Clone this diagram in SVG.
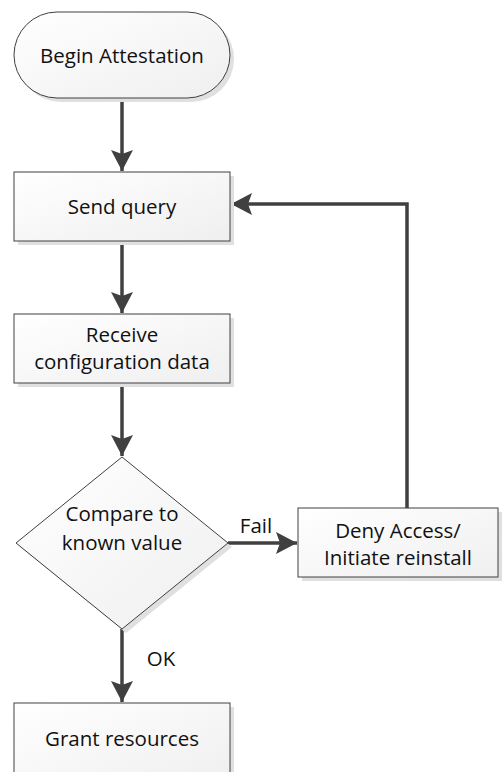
<svg xmlns="http://www.w3.org/2000/svg" width="504" height="772" viewBox="0 0 504 772">
  <style>
    .shape { fill: url(#fillGrad); stroke: #404040; stroke-width: 1; }
    .shadow { fill: #e0e0e0; stroke: none; }
    .label { font-family: "Open Sans", "Liberation Sans", sans-serif; font-size: 20.5px; fill: #111; text-anchor: middle; }
    .conn { fill: none; stroke: #404040; stroke-width: 3.5; }
  </style>
  <defs>
    <linearGradient id="fillGrad" x1="0" y1="0" x2="1" y2="1">
      <stop offset="0" stop-color="#ffffff"/>
      <stop offset="1" stop-color="#efefef"/>
    </linearGradient>
    <marker id="arrow" markerUnits="userSpaceOnUse" markerWidth="22" markerHeight="22" viewBox="0 0 22 22" refX="21" refY="11" orient="auto">
      <path d="M0,0 L21,11 L0,22 L4,11 Z" fill="#404040"/>
    </marker>
  </defs>

  <rect width="504" height="772" fill="#ffffff"/>

  <!-- connectors -->
  <g id="connectors">
    <line class="conn" x1="122" y1="98" x2="122" y2="171" marker-end="url(#arrow)"/>
    <line class="conn" x1="122" y1="241" x2="122" y2="313" marker-end="url(#arrow)"/>
    <line class="conn" x1="122" y1="384" x2="122" y2="456" marker-end="url(#arrow)"/>
    <line class="conn" x1="228" y1="543" x2="297" y2="543" marker-end="url(#arrow)"/>
    <line class="conn" x1="122" y1="629" x2="122" y2="702" marker-end="url(#arrow)"/>
    <polyline class="conn" points="407,508 407,204 231,204" marker-end="url(#arrow)"/>
    <text class="label" x="256" y="533">Fail</text>
    <text class="label" x="161" y="666">OK</text>
  </g>

  <!-- start terminal -->
  <g id="begin">
    <rect class="shadow" x="18" y="16" width="216" height="86" rx="43"/>
    <rect class="shape" x="14" y="12" width="216" height="86" rx="43"/>
    <text class="label" x="122" y="63">Begin Attestation</text>
  </g>

  <g id="send-query">
    <rect class="shadow" x="18" y="176" width="216" height="69"/>
    <rect class="shape" x="14" y="172" width="216" height="69"/>
    <text class="label" x="122" y="214">Send query</text>
  </g>

  <g id="receive-config">
    <rect class="shadow" x="18" y="318" width="216" height="69"/>
    <rect class="shape" x="14" y="314" width="216" height="69"/>
    <text class="label" x="122" y="342">Receive</text>
    <text class="label" x="122" y="369">configuration data</text>
  </g>

  <g id="compare">
    <polygon class="shadow" points="126,461 232,547 126,633 20,547"/>
    <polygon class="shape" points="122,457 228,543 122,629 16,543"/>
    <text class="label" x="122" y="521">Compare to</text>
    <text class="label" x="122" y="550">known value</text>
  </g>

  <g id="deny-access">
    <rect class="shadow" x="302" y="512" width="200" height="69"/>
    <rect class="shape" x="298" y="508" width="200" height="69"/>
    <text class="label" x="398" y="538">Deny Access/</text>
    <text class="label" x="398" y="565">Initiate reinstall</text>
  </g>

  <g id="grant-resources">
    <rect class="shadow" x="18" y="707" width="216" height="80"/>
    <rect class="shape" x="14" y="703" width="216" height="80"/>
    <text class="label" x="122" y="746">Grant resources</text>
  </g>
</svg>
